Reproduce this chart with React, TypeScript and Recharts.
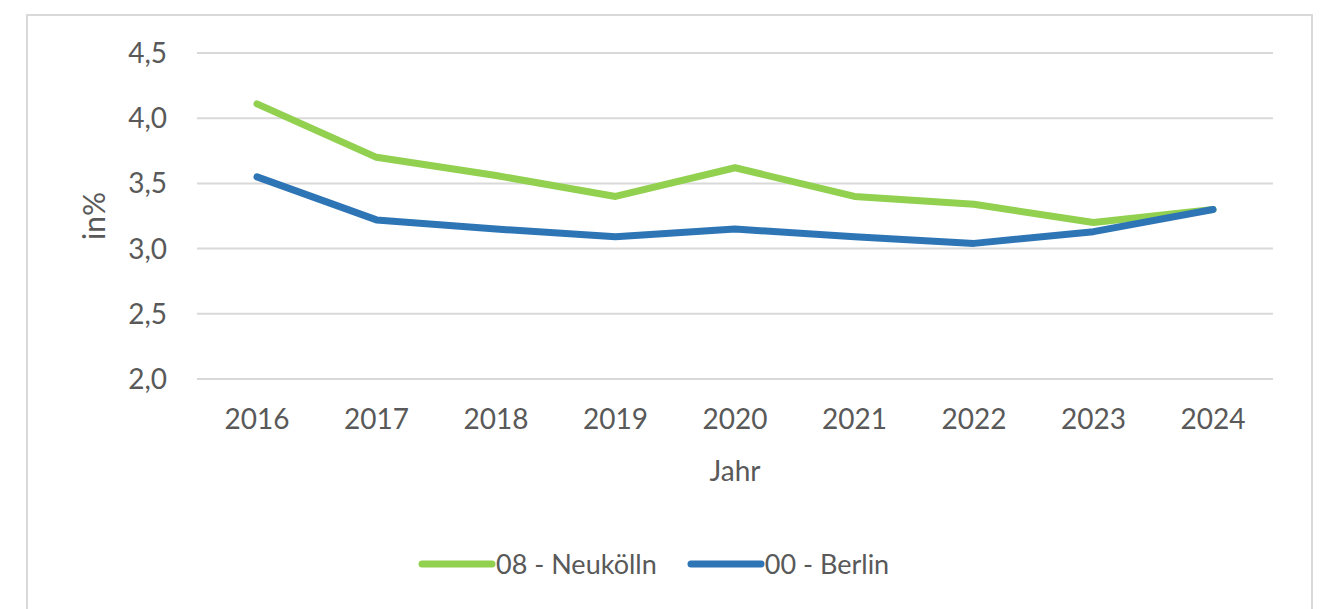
import React from 'react';
import { LineChart, Line, XAxis, YAxis, CartesianGrid } from 'recharts';

const years = ['2016', '2017', '2018', '2019', '2020', '2021', '2022', '2023', '2024'];
const neukoelln = [4.11, 3.7, 3.56, 3.4, 3.62, 3.4, 3.34, 3.2, 3.3];
const berlin = [3.55, 3.22, 3.15, 3.09, 3.15, 3.09, 3.04, 3.13, 3.3];
const yTicks = [2.0, 2.5, 3.0, 3.5, 4.0, 4.5];

const GREEN = '#92D050';
const BLUE = '#2E75B6';
const TEXT = '#595959';
const FONT = 'Lato, "Open Sans", sans-serif';

const series = [
    { key: 'neukoelln', name: '08 - Neukölln', color: GREEN },
    { key: 'berlin', name: '00 - Berlin', color: BLUE },
];

const data = years.map((year, i) => ({
    year,
    neukoelln: neukoelln[i],
    berlin: berlin[i],
}));

const fmt = (v: number) => v.toFixed(1).replace('.', ',');

export default function App() {
    return (
        <div style={{ position: 'absolute', left: 0, top: 0, width: 1322, height: 609, overflow: 'hidden', background: '#fff' }}>
            {/* outer chart frame */}
            <div
                style={{
                    position: 'absolute',
                    left: 26,
                    top: 14,
                    width: 1287,
                    height: 640,
                    border: '2px solid #D9D9D9',
                    boxSizing: 'border-box',
                }}
            />
            <div style={{ position: 'absolute', left: 0, top: 0 }}>
                <LineChart
                    width={1322}
                    height={609}
                    data={data}
                    margin={{ top: 53, right: 49, left: 0, bottom: 120 }}
                >
                    <CartesianGrid vertical={false} stroke="#D9D9D9" strokeWidth={2} />
                    <XAxis
                        dataKey="year"
                        padding={{ left: 60, right: 60 }}
                        axisLine={false}
                        tickLine={false}
                        tickSize={0}
                        tickMargin={30}
                        height={110}
                        tick={{ fill: TEXT, fontSize: 28, fontFamily: FONT }}
                        label={{
                            value: 'Jahr',
                            position: 'insideBottom',
                            offset: 8,
                            style: { fill: TEXT, fontSize: 28, fontFamily: FONT },
                        }}
                    />
                    <YAxis
                        domain={[2, 4.5]}
                        ticks={yTicks}
                        width={197}
                        axisLine={false}
                        tickLine={false}
                        tickSize={0}
                        tickMargin={30}
                        tickFormatter={fmt}
                        tick={{ fill: TEXT, fontSize: 28, fontFamily: FONT }}
                        label={{
                            value: 'in%',
                            angle: -90,
                            position: 'center',
                            dx: -4,
                            style: { fill: TEXT, fontSize: 30, fontFamily: FONT },
                        }}
                    />
                    {series.map((s) => (
                        <Line
                            key={s.key}
                            type="linear"
                            dataKey={s.key}
                            name={s.name}
                            stroke={s.color}
                            strokeWidth={7}
                            strokeLinecap="round"
                            strokeLinejoin="round"
                            dot={false}
                            activeDot={false}
                            isAnimationActive={false}
                        />
                    ))}
                </LineChart>
            </div>

            {/* legend, kept outside the chart so it doesn't shrink the plot */}
            <div
                style={{
                    position: 'absolute',
                    left: 418,
                    top: 547,
                    display: 'flex',
                    alignItems: 'center',
                    fontFamily: FONT,
                    fontSize: 27,
                    color: TEXT,
                }}
            >
                {series.map((s) => (
                    <div key={s.key} style={{ display: 'flex', alignItems: 'center', marginRight: 30 }}>
                        <svg width={78} height={10}>
                            <line x1={4} y1={5} x2={74} y2={5} stroke={s.color} strokeWidth={7} strokeLinecap="round" />
                        </svg>
                        <span>{s.name}</span>
                    </div>
                ))}
            </div>
        </div>
    );
}
